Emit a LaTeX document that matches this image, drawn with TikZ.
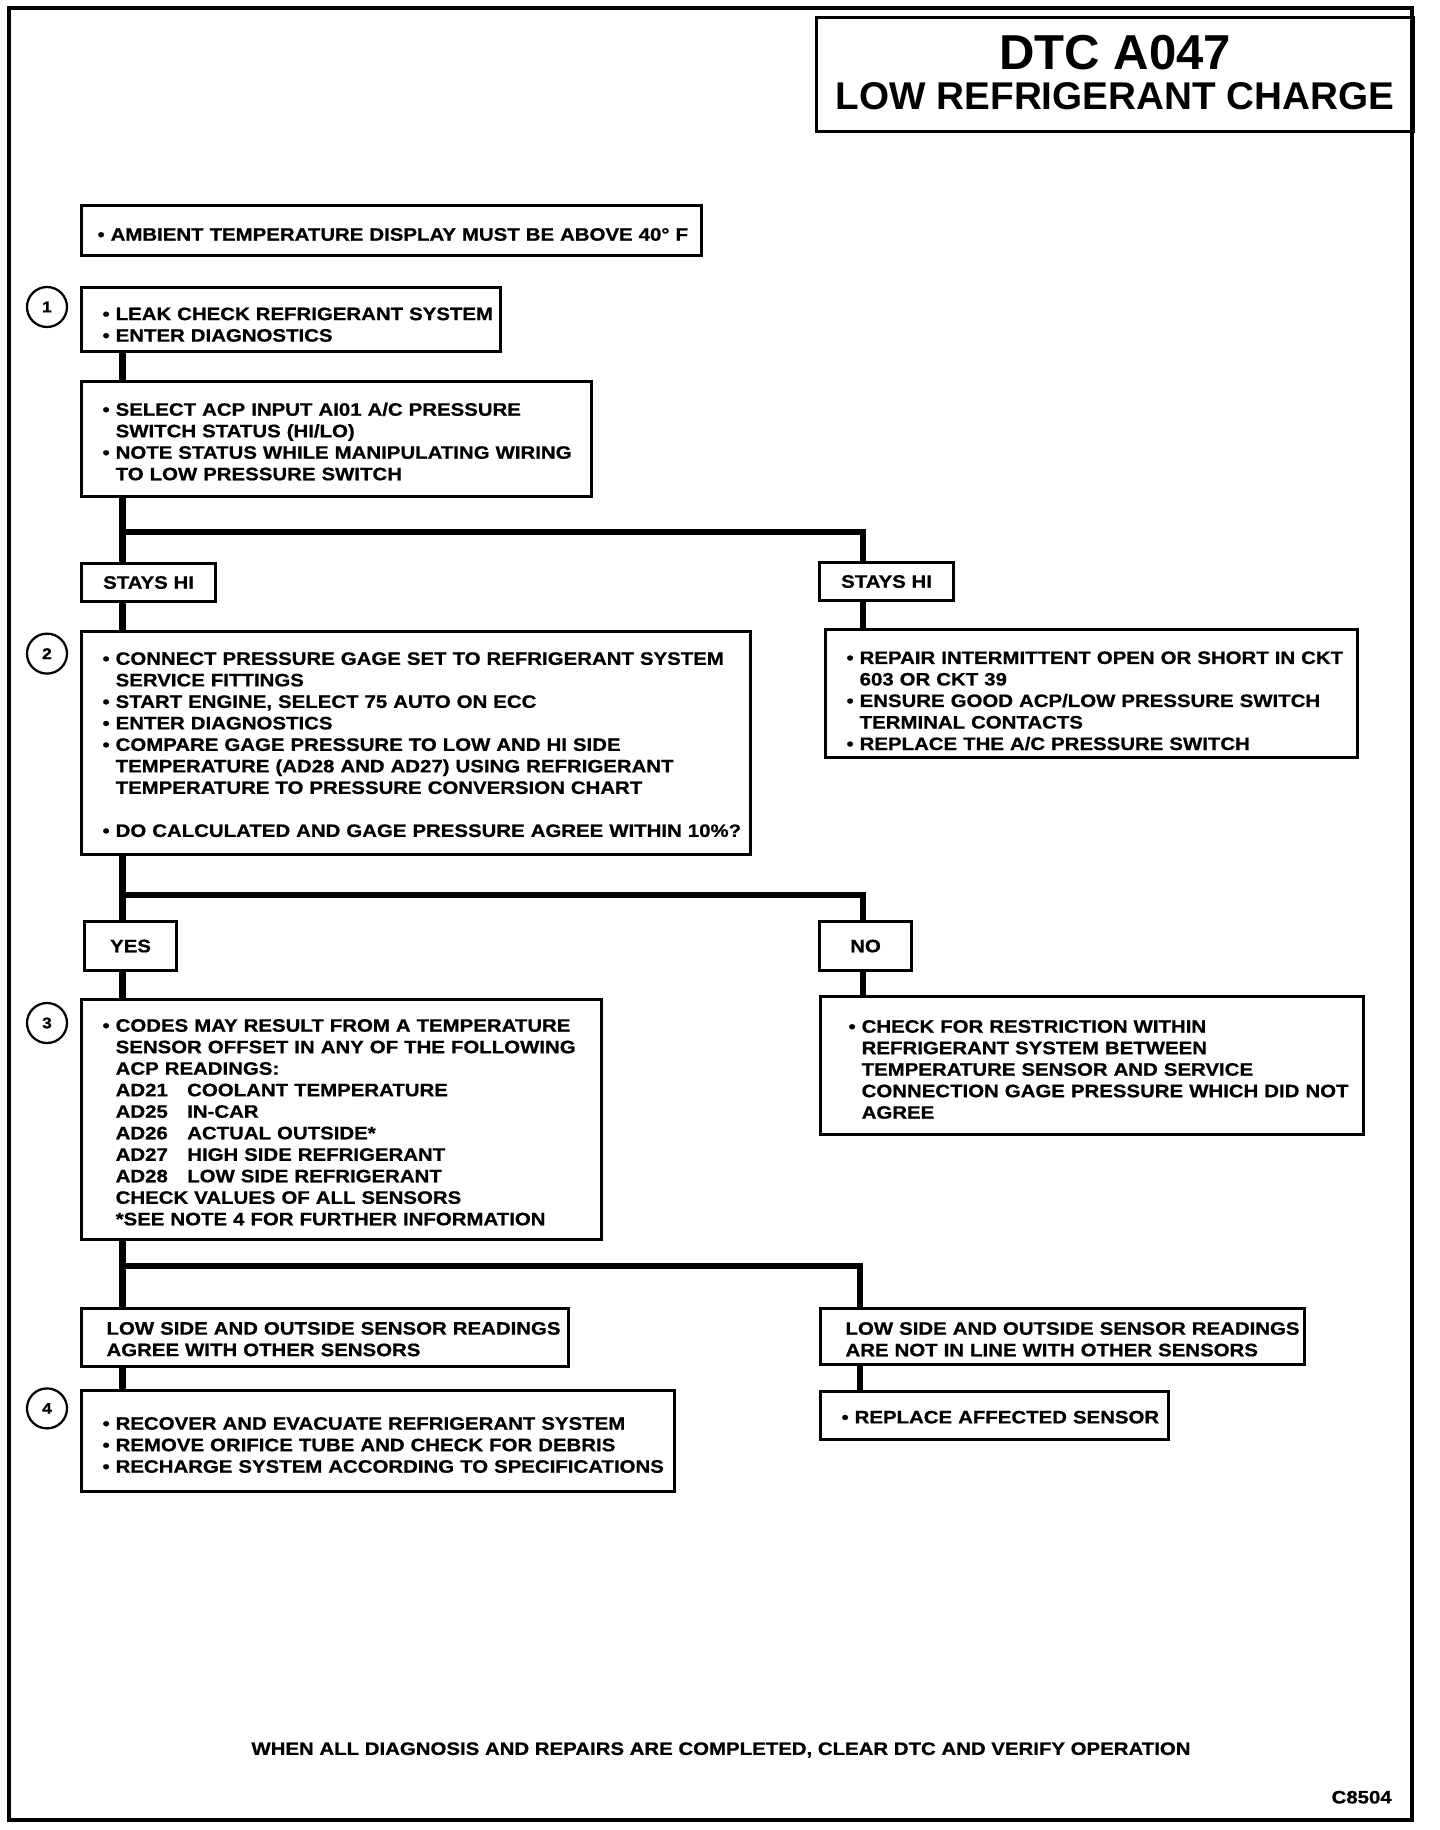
\documentclass[tikz,border=0pt]{standalone}
\usepackage{fontspec}
\usepackage{tikz}
\newfontfamily\headfont{Liberation Sans}
\newfontfamily\bodyfont{Liberation Sans}[FakeStretch=1.134, FakeBold=0.8]
\newcommand{\bodysize}{\fontsize{12.8}{15.3}\selectfont}
\newcommand{\lns}[2][6.6pt]{\begin{tabular}{@{}l@{}}\rule{0pt}{\dimexpr10.71pt+#1\relax}#2\end{tabular}}
\newcommand{\itm}{\textbullet\ }
\newcommand{\hng}{\phantom{\textbullet\ }}
\newcommand{\adcode}[1]{\makebox[50.9pt][l]{#1}}

\begin{document}
\begin{tikzpicture}[
  box/.style={draw, line width=2.2pt, anchor=north west, align=left, inner xsep=0.525cm, inner ysep=0pt, font=\bodyfont\bfseries\bodysize},
  lbl/.style={draw, line width=2.2pt, anchor=north west, align=center, inner sep=0pt, font=\bodyfont\bfseries\bodysize},
  num/.style={draw, circle, line width=1.6pt, minimum size=1cm, inner sep=0pt, font=\bodyfont\bfseries\fontsize{11}{11}\selectfont},
  link/.style={line width=4.5pt},
]
\useasboundingbox (0,0) rectangle (36,-45.75);
\draw[line width=2.6pt] (0.225,-0.2) rectangle (35.3,-45.5);
\node[lbl, minimum width=14.925cm, minimum height=2.85cm, font=\headfont\bfseries\fontsize{10}{10}\selectfont] (title) at (20.375,-0.4) {\begin{tabular}{@{}c@{}}{\fontsize{34.9}{34.9}\selectfont DTC A047}\\ \rule{0pt}{25.2pt}{\fontsize{27.5}{27.5}\selectfont LOW REFRIGERANT CHARGE}\end{tabular}};

\node[box, inner xsep=0.4cm, text width=14.7cm, minimum height=1.25cm] (amb) at (2,-5.1) {\lns[8.3pt]{\itm AMBIENT TEMPERATURE DISPLAY MUST BE ABOVE 40° F}};

\node[num] (n1) at (1.175,-7.675) {1};
\node[box, text width=9.425cm, minimum height=1.6cm] (leak) at (2,-7.15) {\lns[10pt]{\itm LEAK CHECK REFRIGERANT SYSTEM\\ \itm ENTER DIAGNOSTICS}};
\node[box, text width=11.7cm, minimum height=2.875cm] (acp) at (2,-9.5) {\lns{\itm SELECT ACP INPUT AI01 A/C PRESSURE\\ \hng SWITCH STATUS (HI/LO)\\ \itm NOTE STATUS WHILE MANIPULATING WIRING\\ \hng TO LOW PRESSURE SWITCH}};

\node[lbl, minimum width=3.35cm, minimum height=0.95cm] (hiA) at (2,-14.05) {STAYS HI};
\node[lbl, minimum width=3.35cm, minimum height=0.95cm] (hiB) at (20.45,-14.025) {STAYS HI};

\node[num] (n2) at (1.175,-16.34) {2};
\node[box, text width=15.675cm, minimum height=5.575cm] (gage) at (2,-15.75) {\lns[5pt]{\itm CONNECT PRESSURE GAGE SET TO REFRIGERANT SYSTEM\\ \hng SERVICE FITTINGS\\ \itm START ENGINE, SELECT 75 AUTO ON ECC\\ \itm ENTER DIAGNOSTICS\\ \itm COMPARE GAGE PRESSURE TO LOW AND HI SIDE\\ \hng TEMPERATURE (AD28 AND AD27) USING REFRIGERANT\\ \hng TEMPERATURE TO PRESSURE CONVERSION CHART\\ \\ \itm DO CALCULATED AND GAGE PRESSURE AGREE WITHIN 10\%?}};
\node[box, text width=12.25cm, minimum height=3.2cm] (ckt) at (20.6,-15.7) {\lns[13pt]{\itm REPAIR INTERMITTENT OPEN OR SHORT IN CKT\\ \hng 603 OR CKT 39\\ \itm ENSURE GOOD ACP/LOW PRESSURE SWITCH\\ \hng TERMINAL CONTACTS\\ \itm REPLACE THE A/C PRESSURE SWITCH}};

\node[lbl, minimum width=2.3cm, minimum height=1.225cm] (yes) at (2.075,-23) {YES};
\node[lbl, minimum width=2.3cm, minimum height=1.225cm] (no) at (20.45,-23) {NO};

\node[num] (n3) at (1.175,-25.575) {3};
\node[box, text width=11.95cm, minimum height=6cm] (codes) at (2,-24.95) {\lns{\itm CODES MAY RESULT FROM A TEMPERATURE\\ \hng SENSOR OFFSET IN ANY OF THE FOLLOWING\\ \hng ACP READINGS:\\ \hng\adcode{AD21}COOLANT TEMPERATURE\\ \hng\adcode{AD25}IN-CAR\\ \hng\adcode{AD26}ACTUAL OUTSIDE*\\ \hng\adcode{AD27}HIGH SIDE REFRIGERANT\\ \hng\adcode{AD28}LOW SIDE REFRIGERANT\\ \hng CHECK VALUES OF ALL SENSORS\\ \hng *SEE NOTE 4 FOR FURTHER INFORMATION}};
\node[box, inner xsep=0.7cm, text width=12.175cm, minimum height=3.45cm] (restr) at (20.475,-24.875) {\lns[8.3pt]{\itm CHECK FOR RESTRICTION WITHIN\\ \hng REFRIGERANT SYSTEM BETWEEN\\ \hng TEMPERATURE SENSOR AND SERVICE\\ \hng CONNECTION GAGE PRESSURE WHICH DID NOT\\ \hng AGREE}};

\node[box, inner xsep=0.625cm, text width=10.925cm, minimum height=1.45cm] (agree) at (2,-32.675) {\lns[5pt]{LOW SIDE AND OUTSIDE SENSOR READINGS\\ AGREE WITH OTHER SENSORS}};
\node[box, inner xsep=0.625cm, text width=10.85cm, minimum height=1.4cm] (notin) at (20.475,-32.675) {\lns{LOW SIDE AND OUTSIDE SENSOR READINGS\\ ARE NOT IN LINE WITH OTHER SENSORS}};

\node[num] (n4) at (1.175,-35.21) {4};
\node[box, text width=13.775cm, minimum height=2.525cm] (recov) at (2,-34.725) {\lns[8.3pt]{\itm RECOVER AND EVACUATE REFRIGERANT SYSTEM\\ \itm REMOVE ORIFICE TUBE AND CHECK FOR DEBRIS\\ \itm RECHARGE SYSTEM ACCORDING TO SPECIFICATIONS}};
\node[box, text width=7.65cm, minimum height=1.2cm] (repl) at (20.475,-34.75) {\lns[5pt]{\itm REPLACE AFFECTED SENSOR}};

\node[font=\bodyfont\bfseries\bodysize] (foot) at (18.025,-43.75) {WHEN ALL DIAGNOSIS AND REPAIRS ARE COMPLETED, CLEAR DTC AND VERIFY OPERATION};
\node[anchor=east, inner sep=0pt, font=\bodyfont\bfseries\bodysize] (fig) at (34.8,-44.93) {C8504};

\coordinate (tx) at (3.06,0);
\coordinate (bx) at (21.575,0);
\coordinate (bxc) at (21.5,0);
\coordinate (j1) at (3.06,-13.3);
\coordinate (j2) at (3.06,-22.375);
\coordinate (j3) at (3.06,-31.65);
\draw[link] (leak.south -| tx) -- (acp.north -| tx);
\draw[link] (acp.south -| tx) -- (hiA.north -| tx);
\draw[link] (j1) -| (hiB.north -| bx);
\draw[link] (hiA.south -| tx) -- (gage.north -| tx);
\draw[link] (hiB.south -| bx) -- (ckt.north -| bx);
\draw[link] (gage.south -| tx) -- (yes.north -| tx);
\draw[link] (j2) -| (no.north -| bx);
\draw[link] (yes.south -| tx) -- (codes.north -| tx);
\draw[link] (no.south -| bx) -- (restr.north -| bx);
\draw[link] (codes.south -| tx) -- (agree.north -| tx);
\draw[link] (j3) -| (notin.north -| bxc);
\draw[link] (agree.south -| tx) -- (recov.north -| tx);
\draw[link] (notin.south -| bxc) -- (repl.north -| bxc);
\end{tikzpicture}
\end{document}
